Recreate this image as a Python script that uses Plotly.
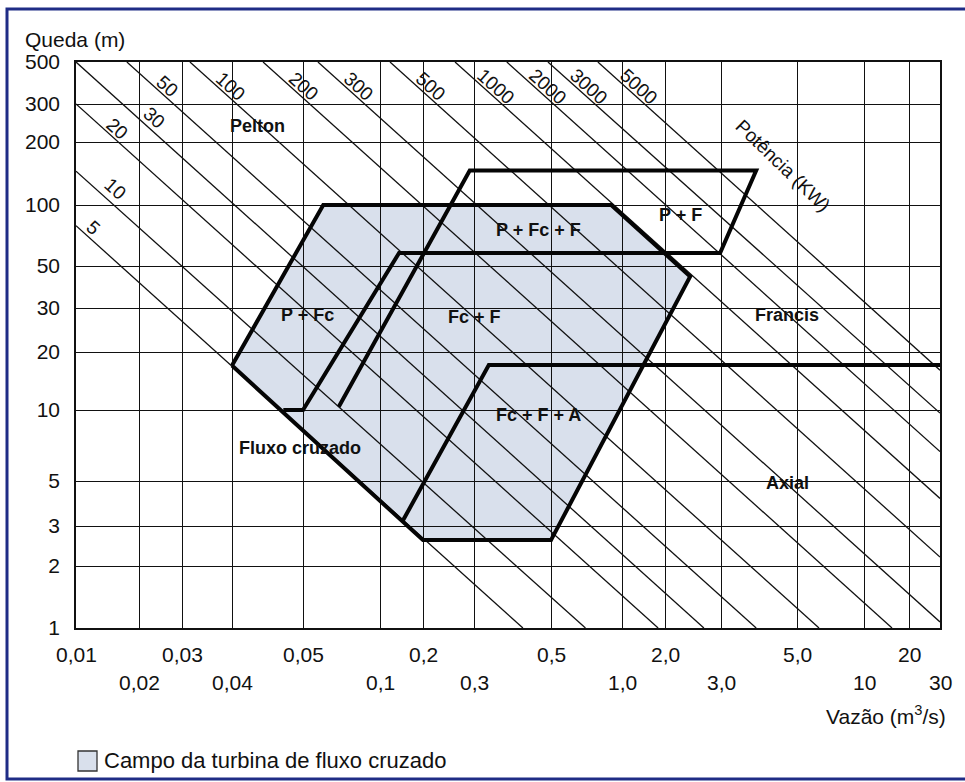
import numpy as np
import plotly.graph_objects as go

# ---------------------------------------------------------------------------
# Data: flow Q (m3/s) and head H (m)
# ---------------------------------------------------------------------------
flow_ticks = [0.01, 0.02, 0.03, 0.04, 0.05, 0.1, 0.2, 0.3, 0.5, 1.0, 2.0, 3.0, 5.0, 10, 20, 30]
flow_labels = ["0,01", "0,02", "0,03", "0,04", "0,05", "0,1", "0,2", "0,3",
               "0,5", "1,0", "2,0", "3,0", "5,0", "10", "20", "30"]
head_ticks = [1, 2, 3, 5, 10, 20, 30, 50, 100, 200, 300, 500]
head_labels = ["1", "2", "3", "5", "10", "20", "30", "50", "100", "200", "300", "500"]

# Field of the cross-flow turbine (closed outline)
crossflow_q = [0.04, 0.06, 0.9, 2.4, 0.5, 0.2, 0.04]
crossflow_h = [17, 100, 100, 44, 2.6, 2.6, 17]

# P+Fc / Fc+F limit, P+Fc+F band and the P+F field
pf_q = [0.047, 0.05, 0.136, 2.98, 3.8, 0.29, 0.069]
pf_h = [10, 10, 58, 58, 146, 146, 10.4]

# Upper limit of the axial field (Fc+F+A) extending to the right
axial_q = [0.145, 0.331, 30]
axial_h = [3.2, 17.1, 17.1]

# Constant-power lines (kW): start and end on the chart frame
power_kw = ["5", "10", "20", "30", "50", "100", "200", "300", "500",
            "1000", "2000", "3000", "5000"]
power_q0 = [0.01, 0.01, 0.01, 0.01, 0.0175, 0.0314, 0.0441, 0.0572, 0.1175,
            0.258, 0.373, 0.49, 0.79]
power_h0 = [79, 145, 300, 500, 500, 500, 500, 500, 500, 500, 500, 500, 500]
power_q1 = [0.415, 0.70, 1.79, 2.65, 3.8, 6.28, 15.4, 30, 30, 30, 30, 30, 30]
power_h1 = [1, 1, 1, 1, 1, 1, 1, 1.07, 2.19, 4.1, 6.66, 9.7, 16.1]

# Turbine field names and where they are written (Q, H)
field_names = ["Pelton", "P + Fc + F", "P + F", "P + Fc", "Fc + F", "Francis",
               "Fc + F + A", "Fluxo cruzado", "Axial"]
field_q = [0.0434, 0.46, 2.23, 0.052, 0.30, 4.67, 0.46, 0.0495, 4.7]
field_h = [238, 75, 89, 28, 27.6, 28, 9.5, 6.9, 4.87]

# ---------------------------------------------------------------------------
# Axis scale: the printed grid is not evenly logarithmic, so each grid value
# has its own place along the axis (in pixels of the plotting area).
# ---------------------------------------------------------------------------
FLOW_AXIS = [0, 63, 106, 156, 227, 304, 347, 398, 475, 546, 589, 645, 721, 788, 833, 864]
HEAD_AXIS = [0, 62, 102, 147, 218, 276, 320, 362, 423, 486, 524, 566]

def fx(q):
    return np.interp(np.log10(np.asarray(q, float)), np.log10(flow_ticks), FLOW_AXIS)

def hy(h):
    return np.interp(np.log10(np.asarray(h, float)), np.log10(head_ticks), HEAD_AXIS)

# Page layout
W, H = 965, 782
ML, MT = 76, 62
PW, PH = FLOW_AXIS[-1], HEAD_AXIS[-1]
MR, MB = W - ML - PW, H - MT - PH

def page_x(px):
    return (px - ML) / PW

def page_y(py):
    return (MT + PH - py) / PH

FONT = "Liberation Sans, Arial, Helvetica, sans-serif"
INK = "#111111"
FIELD_FILL = "#d9e0ec"
FRAME_BLUE = "#1f2c86"

fig = go.Figure()

# Shaded cross-flow field, drawn underneath the grid
cx, cy = fx(crossflow_q), hy(crossflow_h)
path = "M " + " L ".join(f"{x:.2f},{y:.2f}" for x, y in zip(cx, cy)) + " Z"
fig.add_shape(type="path", path=path, xref="x", yref="y",
              fillcolor=FIELD_FILL, line=dict(width=0), layer="below")

# Constant-power lines
for q0, h0, q1, h1 in zip(power_q0, power_h0, power_q1, power_h1):
    fig.add_trace(go.Scatter(x=fx([q0, q1]), y=hy([h0, h1]), mode="lines",
                             line=dict(color=INK, width=1.3),
                             hoverinfo="skip", showlegend=False))

# Field limits (thick)
for qs, hs in [(crossflow_q, crossflow_h), (pf_q, pf_h), (axial_q, axial_h)]:
    fig.add_trace(go.Scatter(x=fx(qs), y=hy(hs), mode="lines",
                             line=dict(color="#050505", width=4),
                             hoverinfo="skip", showlegend=False))

annotations = []

# Power labels written along their lines
label_shift = {"5": (17, 2), "10": (39, 17), "30": (78, 55)}
for name, q0, h0 in zip(power_kw, power_q0, power_h0):
    dx, dy = label_shift.get(name, (41, 24))
    annotations.append(dict(x=float(fx(q0)), y=float(hy(h0)), xref="x", yref="y",
                            text=name, showarrow=False, textangle=42,
                            xshift=dx, yshift=-dy,
                            font=dict(family=FONT, size=19, color=INK)))

annotations.append(dict(x=float(fx(4.55)), y=float(hy(155)), xref="x", yref="y",
                        text="Potência (KW)", showarrow=False, textangle=44,
                        font=dict(family=FONT, size=19, color=INK)))

# Field names
for name, q, h in zip(field_names, field_q, field_h):
    annotations.append(dict(x=float(fx(q)), y=float(hy(h)), xref="x", yref="y",
                            text=name, showarrow=False,
                            font=dict(family=FONT, size=18, color=INK, weight="bold")))

# Flow tick labels on two staggered rows
for i, (q, lab) in enumerate(zip(flow_ticks, flow_labels)):
    annotations.append(dict(x=float(fx(q)), y=0, xref="x", yref="paper",
                            yshift=-26 if i % 2 == 0 else -54, yanchor="middle",
                            text=lab, showarrow=False,
                            font=dict(family=FONT, size=21, color=INK)))

# Axis titles
annotations.append(dict(x=page_x(23), y=page_y(40), xref="paper", yref="paper",
                        xanchor="left", yanchor="middle", text="Queda (m)",
                        showarrow=False, font=dict(family=FONT, size=21, color=INK)))
annotations.append(dict(x=page_x(948), y=page_y(715), xref="paper", yref="paper",
                        xanchor="right", yanchor="middle",
                        text="Vazão (m<sup>3</sup>/s)",
                        showarrow=False, font=dict(family=FONT, size=21, color=INK)))

# Key for the shaded field
annotations.append(dict(x=page_x(102), y=page_y(761), xref="paper", yref="paper",
                        xanchor="left", yanchor="middle",
                        text="Campo da turbina de fluxo cruzado",
                        showarrow=False, font=dict(family=FONT, size=22, color=INK)))

shapes = [
    dict(type="rect", xref="paper", yref="paper",
         x0=page_x(78), x1=page_x(97), y0=page_y(771), y1=page_y(751),
         fillcolor=FIELD_FILL, line=dict(color="#333333", width=1.3)),
    dict(type="rect", xref="paper", yref="paper",
         x0=page_x(7), x1=page_x(975), y0=page_y(779), y1=page_y(9),
         fillcolor="rgba(0,0,0,0)", line=dict(color=FRAME_BLUE, width=3)),
]
for s in shapes:
    fig.add_shape(**s)

fig.update_layout(
    width=W, height=H,
    margin=dict(l=ML, r=MR, t=MT, b=MB, pad=0),
    paper_bgcolor="white", plot_bgcolor="white",
    showlegend=False,
    annotations=annotations,
    xaxis=dict(range=[0, PW], tickmode="array", tickvals=list(fx(flow_ticks)),
               showticklabels=False, ticks="", showgrid=True,
               gridcolor=INK, gridwidth=1.2, zeroline=False,
               showline=True, mirror=True, linecolor=INK, linewidth=1.5,
               fixedrange=True),
    yaxis=dict(range=[0, PH], tickmode="array", tickvals=list(hy(head_ticks)),
               ticktext=head_labels, ticks="", ticklabelstandoff=10,
               tickfont=dict(family=FONT, size=21, color=INK),
               showgrid=True, gridcolor=INK, gridwidth=1.2, zeroline=False,
               showline=True, mirror=True, linecolor=INK, linewidth=1.5,
               fixedrange=True),
)

fig.write_html("out.html")
